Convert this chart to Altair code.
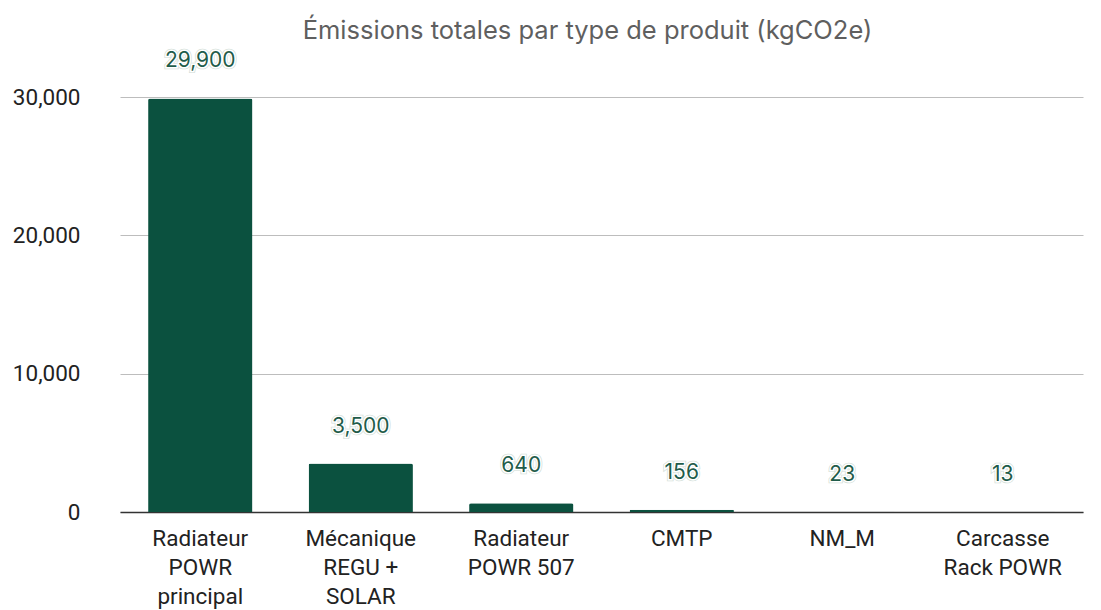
import altair as alt
import pandas as pd

categories = ["Radiateur POWR principal", "Mécanique REGU + SOLAR", "Radiateur POWR 507",
              "CMTP", "NM_M", "Carcasse Rack POWR"]
wrapped = ["Radiateur\nPOWR\nprincipal", "Mécanique\nREGU +\nSOLAR", "Radiateur\nPOWR 507",
           "CMTP", "NM_M", "Carcasse\nRack POWR"]
values = [29900, 3500, 640, 156, 23, 13]
y_ticks = [0, 10000, 20000, 30000]

df = pd.DataFrame({"categorie": categories, "label": wrapped, "valeur": values})

BAR = "#0b513f"
TXT = "#1f5c4a"

x = alt.X("label:N", sort=wrapped, title=None,
          scale=alt.Scale(range=[30, 993], paddingInner=0.35, paddingOuter=0.175),
          axis=alt.Axis(labelExpr="split(datum.label, '\\n')", labelAngle=0,
                        labelFont="Roboto", labelFontSize=22.5, labelColor="#222222",
                        labelLineHeight=29, labelPadding=15, labelBaseline="top",
                        ticks=False, domainColor="#333333", domainWidth=1.5,
                        grid=False, labelLimit=200))
y = alt.Y("valeur:Q", title=None,
          scale=alt.Scale(domain=[0, 30000], nice=False),
          axis=alt.Axis(values=y_ticks, format=",.0f", labelFont="Roboto", labelFontSize=22.5,
                        labelColor="#222222", labelPadding=10, ticks=False, domain=False,
                        gridColor="#bdbdbd", gridWidth=1))
txt = alt.Text("valeur:Q", format=",.0f")

base = alt.Chart(df)
bars = base.mark_bar(color=BAR, cornerRadiusTopLeft=2, cornerRadiusTopRight=2).encode(x=x, y=y)

tprops = dict(font="Inter", fontSize=21, dy=-37, baseline="middle", align="center")
halo1 = base.mark_text(stroke="#d5dfda", strokeWidth=4.5, fill="#d5dfda", **tprops).encode(
    x=x, y=y, text=txt)
halo2 = base.mark_text(stroke="white", strokeWidth=3, fill="white", **tprops).encode(
    x=x, y=y, text=txt)
labels = base.mark_text(color=TXT, **tprops).encode(x=x, y=y, text=txt)

chart = alt.layer(bars, halo1, halo2, labels).properties(
    width=995, height=415,
    autosize=alt.AutoSizeParams(type="none"),
    padding={"left": 82, "top": 89, "right": 8, "bottom": 98},
    title=alt.TitleParams("Émissions totales par type de produit (kgCO2e)", font="Inter",
                          fontSize=25.5, fontWeight="normal", color="#5f5f5f",
                          anchor="middle", offset=6),
).configure_view(stroke=None)

chart.save("out.html", embed_options={"renderer": "svg", "actions": False})
